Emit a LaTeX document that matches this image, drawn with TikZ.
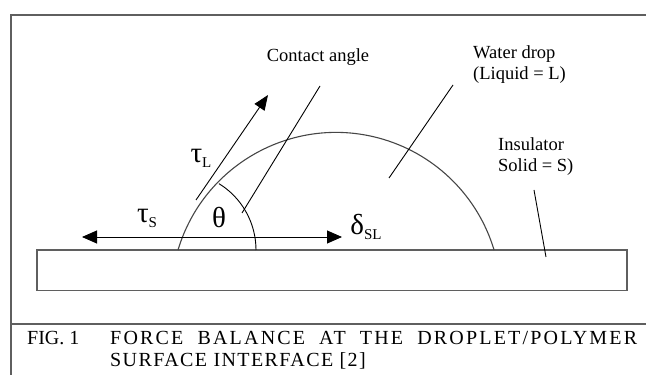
\documentclass[tikz,border=0pt]{standalone}
\usepackage{fontspec}
\setmainfont{Liberation Serif}
\usetikzlibrary{arrows.meta}
\definecolor{FrameGray}{RGB}{95,95,95}
\definecolor{DropGray}{RGB}{70,70,70}
\newcommand{\forcelabel}[2]{{\fontsize{29}{29}\selectfont #1}\raisebox{-5pt}{\fontsize{15}{15}\selectfont #2}}

\begin{document}
\begin{tikzpicture}[x=1pt, y=1pt, font=\fontsize{18.5}{21}\selectfont]
		\useasboundingbox (0,0) rectangle (646,375);
		% 外框与图题分隔线
		\coordinate (FrameTL) at (11,360);
		\coordinate (FrameTR) at (646,360);
		\coordinate (FrameBL) at (11,0);
		\coordinate (SepL) at (11,51);
		\coordinate (SepR) at (646,51);
		\draw[FrameGray, line width=1.5pt] (FrameTR) -- (FrameTL) -- (FrameBL);
		\draw[FrameGray, line width=1.5pt] (SepL) -- (SepR);
		% 绝缘体
		\draw[FrameGray, line width=1.4pt] (37,84.3) rectangle (627,125);
		% 水滴
		\coordinate (CL) at (178,125);
		\coordinate (CR) at (494,125);
		\draw[DropGray, line width=1.1pt] (CL) arc[start angle=163.3, end angle=16.7, radius=165];
		\draw[line width=0.9pt] (256,125) arc[start angle=0, end angle=58.3, radius=78];
		% 受力
		\coordinate (TauLTail) at (196,175);
		\coordinate (TauLHead) at (268,280);
		\coordinate (TauSHead) at (82,138);
		\coordinate (DeltaHead) at (342,138);
		\draw[-{Triangle[length=15pt, width=12pt]}, line width=0.9pt] (TauLTail) -- (TauLHead);
		\draw[{Triangle[length=15pt, width=13pt]}-{Triangle[length=15pt, width=13pt]}, line width=0.9pt] (TauSHead) -- (DeltaHead);
		\node (tauL) at (201,217) {\forcelabel{τ}{L}};
		\node (tauS) at (147,157) {\forcelabel{τ}{S}};
		\node (theta) at (219,157) {\fontsize{29}{29}\selectfont θ};
		\node (delta) at (366,148) {\forcelabel{δ}{SL}};
		% 标注
		\node (angle) at (318,318) {Contact angle};
		\node[anchor=west, align=left, inner sep=0] (drop) at (473,310) {Water drop\\(Liquid = L)};
		\node[anchor=west, align=left, inner sep=0] (solid) at (498,218) {Insulator\\Solid = S)};
		\coordinate (AngleTip) at (242,162);
		\coordinate (AngleEnd) at (320,289);
		\coordinate (DropTip) at (389,197);
		\coordinate (DropEnd) at (453,290);
		\coordinate (SolidTip) at (546,118);
		\coordinate (SolidEnd) at (534,185);
		\draw[line width=0.9pt] (AngleTip) -- (AngleEnd);
		\draw[line width=0.9pt] (DropTip) -- (DropEnd);
		\draw[line width=0.9pt] (SolidTip) -- (SolidEnd);
		% 图题
		\node[anchor=base west, inner sep=0] (fig) at (27,30) {\fontsize{20}{22}\selectfont FIG. 1};
		\node[anchor=base west, inner sep=0] (capA) at (110,30) {\fontsize{20}{22}\selectfont\addfontfeature{LetterSpace=11}\makebox[527pt][s]{FORCE BALANCE AT THE DROPLET/POLYMER}};
		\node[anchor=base west, inner sep=0] (capB) at (110,8) {\fontsize{20}{22}\selectfont\addfontfeature{LetterSpace=7}SURFACE INTERFACE [2]};
	\end{tikzpicture}
\end{document}
